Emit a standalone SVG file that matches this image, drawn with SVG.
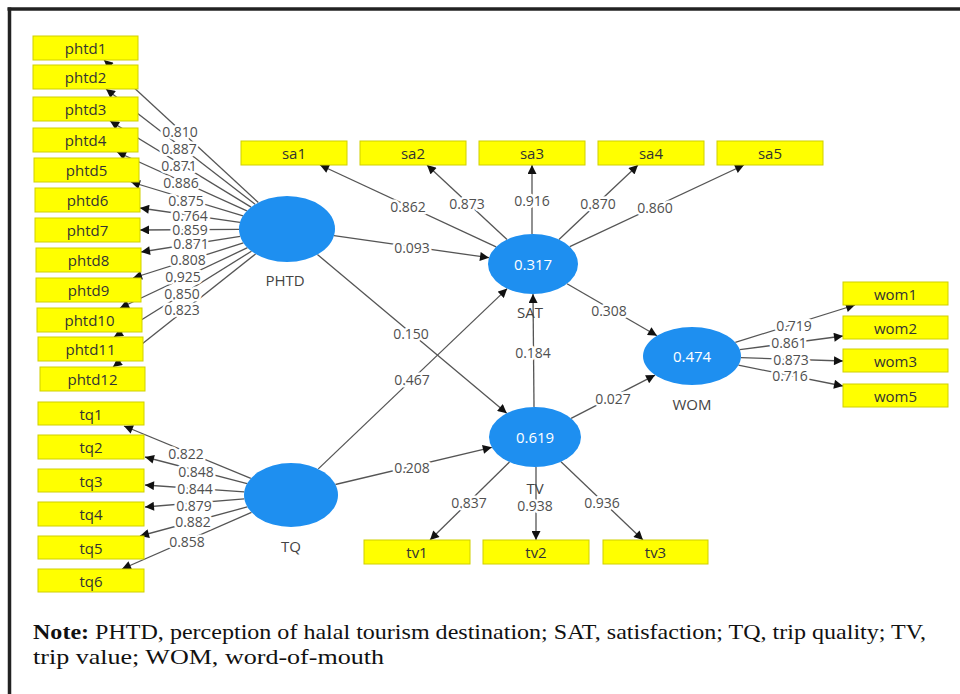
<svg xmlns="http://www.w3.org/2000/svg" width="960" height="694" viewBox="0 0 960 694">
<style>
.ln{stroke:#555;stroke-width:1.3;fill:none;marker-end:url(#ah)}
.lv{font-family:"Open Sans","Noto Sans",sans-serif;font-size:14px;fill:#505050;text-anchor:middle;dominant-baseline:central;stroke:#fff;stroke-width:5;paint-order:stroke;stroke-linejoin:round}
.bx{fill:#ffff00;stroke:#d0d000;stroke-width:1}
.bt{font-family:"Open Sans","Noto Sans",sans-serif;font-size:15px;fill:#333;text-anchor:middle;dominant-baseline:central}
.cc{fill:#1e8ff0}
.ct{font-family:"Open Sans","Noto Sans",sans-serif;font-size:15px;fill:#fff;text-anchor:middle;dominant-baseline:central}
.nl{font-family:"Open Sans","Noto Sans",sans-serif;font-size:15px;fill:#444;text-anchor:middle;dominant-baseline:central}
.note{font-family:"Liberation Serif","Times New Roman",serif;font-size:21px;fill:#111}
</style>
<defs>
<marker id="ah" viewBox="0 0 10 10" refX="10" refY="5" markerWidth="10" markerHeight="9" orient="auto" markerUnits="userSpaceOnUse"><path d="M0,0 L10,5 L0,10 z" fill="#111"/></marker>
</defs>
<rect x="0" y="0" width="960" height="694" fill="#fff"/>
<g id="frame" stroke="#222" stroke-width="3.5">
<line x1="7.5" y1="9" x2="960" y2="9"/>
<line x1="9.5" y1="7.5" x2="9.5" y2="694"/>
</g>
<g id="connectors">
<line class="ln" x1="258.3" y1="202.5" x2="104" y2="60"/>
<line class="ln" x1="255.1" y1="204.3" x2="106" y2="89"/>
<line class="ln" x1="251.1" y1="207.1" x2="110" y2="121"/>
<line class="ln" x1="246.9" y1="210.8" x2="117" y2="152"/>
<line class="ln" x1="243" y1="215.8" x2="131" y2="182"/>
<line class="ln" x1="240" y1="222.3" x2="140" y2="208"/>
<line class="ln" x1="239" y1="229.3" x2="140" y2="230"/>
<line class="ln" x1="240.2" y1="236.4" x2="141" y2="252"/>
<line class="ln" x1="243.4" y1="242.9" x2="133" y2="278"/>
<line class="ln" x1="247.5" y1="247.7" x2="120" y2="308"/>
<line class="ln" x1="251.5" y1="251.2" x2="114" y2="337"/>
<line class="ln" x1="255.6" y1="253.9" x2="113" y2="367"/>
<line class="ln" x1="250.8" y1="478.4" x2="124" y2="426"/>
<line class="ln" x1="247.1" y1="483.6" x2="145" y2="457"/>
<line class="ln" x1="244.2" y1="491.8" x2="145" y2="485"/>
<line class="ln" x1="244.3" y1="498.8" x2="145" y2="507"/>
<line class="ln" x1="247.3" y1="506.9" x2="140" y2="536"/>
<line class="ln" x1="251.5" y1="512.3" x2="122" y2="569"/>
<line class="ln" x1="496.1" y1="246.8" x2="320" y2="165"/>
<line class="ln" x1="507" y1="239.5" x2="427" y2="165"/>
<line class="ln" x1="532" y1="234" x2="532" y2="165"/>
<line class="ln" x1="559" y1="239.5" x2="638" y2="165"/>
<line class="ln" x1="569.8" y1="246.7" x2="744" y2="165"/>
<line class="ln" x1="334" y1="235.7" x2="489" y2="257.7"/>
<line class="ln" x1="317.4" y1="254.5" x2="506.8" y2="413.3"/>
<line class="ln" x1="318.3" y1="468.9" x2="507.2" y2="288.6"/>
<line class="ln" x1="335.4" y1="484.5" x2="491.8" y2="447.3"/>
<line class="ln" x1="534" y1="407" x2="533" y2="294"/>
<line class="ln" x1="567" y1="283.7" x2="657" y2="335.7"/>
<line class="ln" x1="571.1" y1="418.4" x2="655.1" y2="375.1"/>
<line class="ln" x1="509.5" y1="462" x2="430" y2="540"/>
<line class="ln" x1="536" y1="467" x2="536" y2="540"/>
<line class="ln" x1="561" y1="461.8" x2="643" y2="540"/>
<line class="ln" x1="735.3" y1="342.4" x2="855" y2="305"/>
<line class="ln" x1="739.8" y1="349.7" x2="843" y2="336"/>
<line class="ln" x1="741" y1="357.6" x2="843" y2="361"/>
<line class="ln" x1="738.4" y1="365.2" x2="843" y2="386"/>
<text class="lv" x="180" y="131">0.810</text>
<text class="lv" x="179" y="148">0.887</text>
<text class="lv" x="179" y="165">0.871</text>
<text class="lv" x="181" y="182">0.886</text>
<text class="lv" x="186" y="200">0.875</text>
<text class="lv" x="190" y="215">0.764</text>
<text class="lv" x="190" y="229">0.859</text>
<text class="lv" x="191" y="243">0.871</text>
<text class="lv" x="188" y="259">0.808</text>
<text class="lv" x="183" y="276">0.925</text>
<text class="lv" x="182" y="293">0.850</text>
<text class="lv" x="182" y="309">0.823</text>
<text class="lv" x="186" y="453">0.822</text>
<text class="lv" x="196" y="471">0.848</text>
<text class="lv" x="195" y="488">0.844</text>
<text class="lv" x="194" y="505">0.879</text>
<text class="lv" x="193" y="521">0.882</text>
<text class="lv" x="187" y="541">0.858</text>
<text class="lv" x="408" y="206">0.862</text>
<text class="lv" x="467" y="203">0.873</text>
<text class="lv" x="532" y="200">0.916</text>
<text class="lv" x="598" y="203">0.870</text>
<text class="lv" x="655" y="207">0.860</text>
<text class="lv" x="412" y="247">0.093</text>
<text class="lv" x="411" y="333">0.150</text>
<text class="lv" x="412" y="379">0.467</text>
<text class="lv" x="412" y="467">0.208</text>
<text class="lv" x="533" y="352">0.184</text>
<text class="lv" x="609" y="310">0.308</text>
<text class="lv" x="613" y="398">0.027</text>
<text class="lv" x="469" y="502">0.837</text>
<text class="lv" x="535" y="505">0.938</text>
<text class="lv" x="602" y="502">0.936</text>
<text class="lv" x="794" y="325">0.719</text>
<text class="lv" x="789" y="342">0.861</text>
<text class="lv" x="791" y="359">0.873</text>
<text class="lv" x="790" y="375">0.716</text>
</g>
<g id="phtd1"><rect class="bx" x="33" y="36" width="105" height="24"/><text class="bt" x="85.5" y="48">phtd1</text></g>
<g id="phtd2"><rect class="bx" x="33" y="65" width="105" height="24"/><text class="bt" x="85.5" y="77">phtd2</text></g>
<g id="phtd3"><rect class="bx" x="33" y="97" width="105" height="24"/><text class="bt" x="85.5" y="109">phtd3</text></g>
<g id="phtd4"><rect class="bx" x="33" y="128" width="105" height="24"/><text class="bt" x="85.5" y="140">phtd4</text></g>
<g id="phtd5"><rect class="bx" x="34" y="158" width="105" height="24"/><text class="bt" x="86.5" y="170">phtd5</text></g>
<g id="phtd6"><rect class="bx" x="35" y="188" width="105" height="24"/><text class="bt" x="87.5" y="200">phtd6</text></g>
<g id="phtd7"><rect class="bx" x="35" y="218" width="105" height="24"/><text class="bt" x="87.5" y="230">phtd7</text></g>
<g id="phtd8"><rect class="bx" x="36" y="248" width="105" height="24"/><text class="bt" x="88.5" y="260">phtd8</text></g>
<g id="phtd9"><rect class="bx" x="36" y="278" width="105" height="24"/><text class="bt" x="88.5" y="290">phtd9</text></g>
<g id="phtd10"><rect class="bx" x="37" y="308" width="105" height="24"/><text class="bt" x="89.5" y="320">phtd10</text></g>
<g id="phtd11"><rect class="bx" x="38" y="337" width="105" height="24"/><text class="bt" x="90.5" y="349">phtd11</text></g>
<g id="phtd12"><rect class="bx" x="40" y="367" width="105" height="24"/><text class="bt" x="92.5" y="379">phtd12</text></g>
<g id="tq1"><rect class="bx" x="38" y="402" width="106" height="23"/><text class="bt" x="91" y="413.5">tq1</text></g>
<g id="tq2"><rect class="bx" x="38" y="435" width="106" height="24"/><text class="bt" x="91" y="447">tq2</text></g>
<g id="tq3"><rect class="bx" x="38" y="469" width="106" height="23"/><text class="bt" x="91" y="480.5">tq3</text></g>
<g id="tq4"><rect class="bx" x="38" y="502" width="106" height="24"/><text class="bt" x="91" y="514">tq4</text></g>
<g id="tq5"><rect class="bx" x="38" y="536" width="106" height="23"/><text class="bt" x="91" y="547.5">tq5</text></g>
<g id="tq6"><rect class="bx" x="38" y="569" width="106" height="23"/><text class="bt" x="91" y="580.5">tq6</text></g>
<g id="sa1"><rect class="bx" x="241" y="141" width="106" height="24"/><text class="bt" x="294" y="153">sa1</text></g>
<g id="sa2"><rect class="bx" x="360" y="141" width="106" height="24"/><text class="bt" x="413" y="153">sa2</text></g>
<g id="sa3"><rect class="bx" x="479" y="141" width="106" height="24"/><text class="bt" x="532" y="153">sa3</text></g>
<g id="sa4"><rect class="bx" x="598" y="141" width="106" height="24"/><text class="bt" x="651" y="153">sa4</text></g>
<g id="sa5"><rect class="bx" x="717" y="141" width="106" height="24"/><text class="bt" x="770" y="153">sa5</text></g>
<g id="tv1"><rect class="bx" x="364" y="540" width="106" height="24"/><text class="bt" x="417" y="552">tv1</text></g>
<g id="tv2"><rect class="bx" x="483" y="540" width="106" height="24"/><text class="bt" x="536" y="552">tv2</text></g>
<g id="tv3"><rect class="bx" x="603" y="540" width="105" height="24"/><text class="bt" x="655.5" y="552">tv3</text></g>
<g id="wom1"><rect class="bx" x="843" y="282" width="105" height="23"/><text class="bt" x="895.5" y="293.5">wom1</text></g>
<g id="wom2"><rect class="bx" x="843" y="316" width="105" height="23"/><text class="bt" x="895.5" y="327.5">wom2</text></g>
<g id="wom3"><rect class="bx" x="843" y="349" width="105" height="23"/><text class="bt" x="895.5" y="360.5">wom3</text></g>
<g id="wom5"><rect class="bx" x="843" y="384" width="105" height="23"/><text class="bt" x="895.5" y="395.5">wom5</text></g>
<g id="PHTD"><ellipse class="cc" cx="287" cy="229" rx="48" ry="33"/><text class="nl" x="285" y="280">PHTD</text></g>
<g id="TQ"><ellipse class="cc" cx="291" cy="495" rx="47" ry="32"/><text class="nl" x="291" y="546">TQ</text></g>
<g id="SAT"><ellipse class="cc" cx="533" cy="264" rx="45" ry="30"/><text class="ct" x="533" y="264">0.317</text><text class="nl" x="530" y="312">SAT</text></g>
<g id="TV"><ellipse class="cc" cx="535" cy="437" rx="46" ry="30"/><text class="ct" x="535" y="437">0.619</text><text class="nl" x="535" y="488">TV</text></g>
<g id="WOM"><ellipse class="cc" cx="692" cy="356" rx="49" ry="29"/><text class="ct" x="692" y="356">0.474</text><text class="nl" x="692" y="404">WOM</text></g>
<g id="note">
<text class="note" x="33" y="639" textLength="893" lengthAdjust="spacingAndGlyphs"><tspan font-weight="bold">Note:</tspan> PHTD, perception of halal tourism destination; SAT, satisfaction; TQ, trip quality; TV,</text>
<text class="note" x="33" y="664" textLength="351" lengthAdjust="spacingAndGlyphs">trip value; WOM, word-of-mouth</text>
</g>
</svg>
